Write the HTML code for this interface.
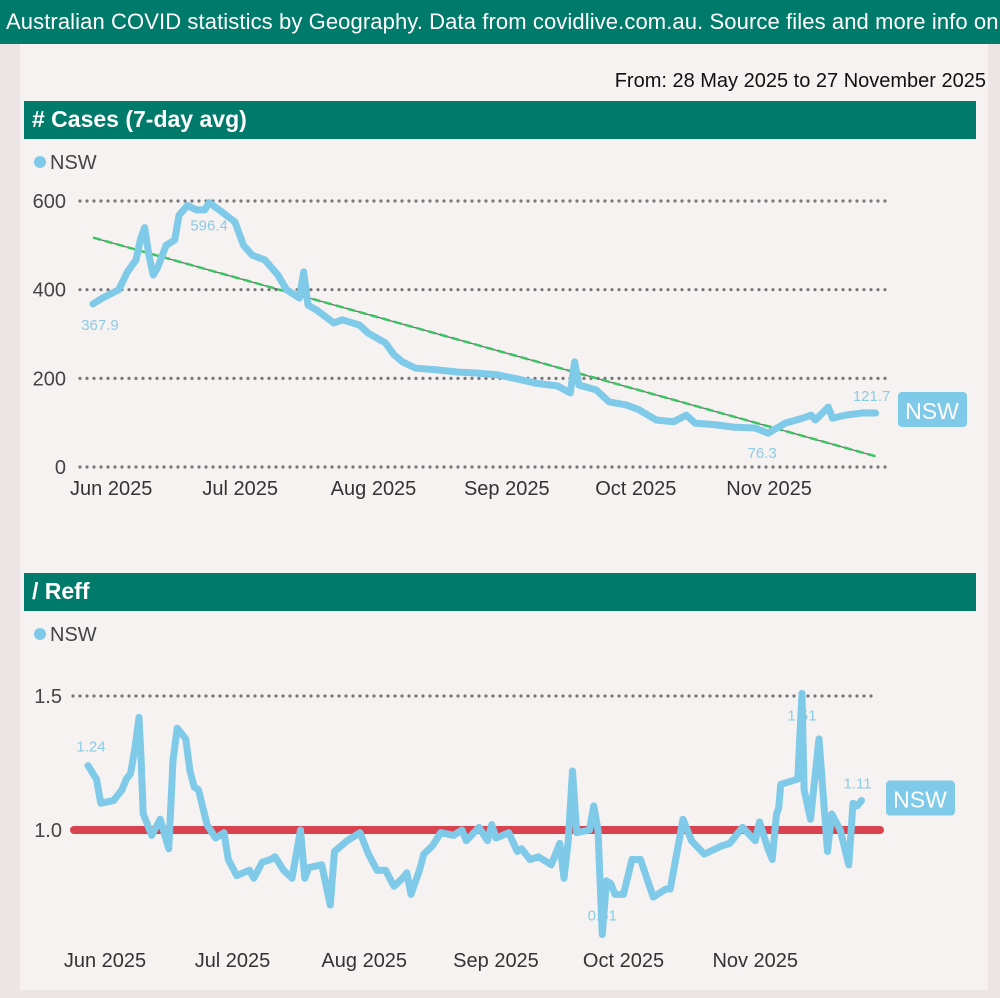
<!DOCTYPE html>
<html><head><meta charset="utf-8"><style>
body{margin:0;width:1000px;height:998px;background:#ede4e5;font-family:"Liberation Sans",sans-serif;overflow:hidden;position:relative}
.hdr{position:absolute;left:0;top:0;width:1000px;height:44px;background:#007a6a;color:#fff;font-size:22px;letter-spacing:0.1px;line-height:44px;white-space:nowrap;padding-left:6px;box-sizing:border-box;overflow:hidden}
.panel{position:absolute;left:20px;top:44px;width:968px;height:946px;background:#f5f2f1}
.from{position:absolute;right:14px;top:70px;font-size:20px;color:#111}
.sec{position:absolute;left:24px;width:952px;height:38px;background:#007a6a;color:#fff;font-size:23px;font-weight:bold;line-height:36px;padding-left:8px;box-sizing:border-box}
svg{position:absolute;left:0;top:0}
</style></head><body>
<div class="hdr">Australian COVID statistics by Geography. Data from covidlive.com.au. Source files and more info on</div>
<div class="panel"></div>
<div class="from">From: 28 May 2025 to 27 November 2025</div>
<div class="sec" style="top:101px"># Cases (7-day avg)</div>
<div class="sec" style="top:573px">/ Reff</div>
<svg id="s" width="1000" height="998"></svg>
<script>
const monthLabels=["Jun 2025","Jul 2025","Aug 2025","Sep 2025","Oct 2025","Nov 2025"];
const monthDays=[4,34,65,96,126,157];
const caseTicks=[0,200,400,600];
const caseDays=[0,2,6,8,10,11,12,13,14,15,17,19,20,22,24,26,27,30,33,35,37,40,43,45,48,49,50,52,56,58,62,64,68,70,72,75,80,85,89,94,98,103,108,111,112,113,117,120,124,127,131,135,138,140,145,149,154,157,161,165,167,168,171,172,175,179,182];
const caseVals=[367.9,380,400,440,467,512,540,478,433,449,500,512,568,590,580,580,596.4,575,553,500,478,467,433,400,381,440,365,354,325,332,320,302,280,253,237,223,219,214,212,208,200,189,183,167,237,185,174,147,140,129,106,102,117,99,95,90,88,76.3,99,110,117,106,135,110,117,122,121.7];
const reffTicks=[1.0,1.5];
const reffDays=[0,2,3,6,8,9,10,11,12,12.5,13,15,17,19,20,21,23,24,25,26,28,30,32,33,35,38,39,41,43,44,46,48,50,51,52,55,57,58,61,63,64,66,68,70,72,74,75,76,78,79,81,83,86,88,89,92,94,95,96,99,101,102,104,106,109,111,112,113,114,115,118,119,120,121,122,123,124,126,128,130,133,136,137,140,142,145,149,151,154,157,158,160,161,162,162.5,163,167,168,168.5,170,172,174,175,177,179,180,181,182];
const reffVals=[1.24,1.19,1.10,1.11,1.15,1.19,1.21,1.30,1.42,1.26,1.06,0.98,1.04,0.93,1.26,1.38,1.34,1.22,1.16,1.15,1.02,0.97,0.99,0.89,0.83,0.85,0.82,0.88,0.89,0.90,0.85,0.82,1.00,0.82,0.86,0.87,0.72,0.92,0.96,0.98,0.99,0.91,0.85,0.85,0.79,0.82,0.84,0.76,0.85,0.91,0.94,0.99,0.98,1.00,0.96,1.01,0.96,1.02,0.97,0.99,0.92,0.93,0.89,0.90,0.87,0.95,0.82,0.96,1.22,0.99,1.00,1.09,1.00,0.61,0.81,0.80,0.76,0.76,0.89,0.89,0.75,0.78,0.78,1.04,0.96,0.91,0.94,0.95,1.01,0.96,1.03,0.93,0.89,1.06,1.08,1.17,1.19,1.51,1.15,1.04,1.34,0.92,1.06,1.00,0.87,1.10,1.09,1.11];
const NS="http://www.w3.org/2000/svg",S=document.getElementById('s');
function mk(t,a,txt){const e=document.createElementNS(NS,t);for(const k in a)e.setAttribute(k,a[k]);if(txt!==undefined)e.textContent=txt;S.appendChild(e);return e;}
const cx=d=>93+d*4.3, cy=v=>467-v*0.4433;
const rx=d=>88+d*4.25, ry=v=>830-(v-1)*268;
caseTicks.forEach(t=>{let g=mk('line',{x1:80,x2:890,y1:cy(t),y2:cy(t),stroke:'#777','stroke-width':3.2,'stroke-dasharray':'0 7','stroke-linecap':'round'});
let l=mk('text',{x:66,y:cy(t)+7,'text-anchor':'end','font-size':20,fill:'#444'},String(t));});
monthLabels.forEach((m,i)=>{let l=mk('text',{x:cx(monthDays[i])+1,y:495,'text-anchor':'middle','font-size':20,fill:'#333'},m);});
{let n=caseDays.length,sx=0,sy=0,sxx=0,sxy=0;caseDays.forEach((d,i)=>{sx+=d;sy+=caseVals[i];sxx+=d*d;sxy+=d*caseVals[i];});
let b=(n*sxy-sx*sy)/(n*sxx-sx*sx),a=(sy-b*sx)/n,d1=caseDays[n-1];
let t=mk('line',{x1:cx(0),y1:cy(a),x2:cx(d1),y2:cy(a+b*d1),stroke:'#666','stroke-width':1.2});
let t2=mk('line',{x1:cx(0),y1:cy(a),x2:cx(d1),y2:cy(a+b*d1),stroke:'#3cc464','stroke-width':2.5,'stroke-dasharray':'8 4'});}
let p=mk('polyline',{points:caseDays.map((d,i)=>cx(d)+','+cy(caseVals[i])).join(' '),fill:'none',stroke:'#7fc9e9','stroke-width':7,'stroke-linejoin':'round','stroke-linecap':'round'});

function lab(x,y,t,n){let l=mk('text',{x:x,y:y,'text-anchor':'middle','font-size':15,fill:'#8ccbe6'},t);}
{let n=caseDays.length,mx=0,mn=0;caseVals.forEach((v,i)=>{if(v>caseVals[mx])mx=i;if(v<caseVals[mn])mn=i;});
lab(cx(0)+7,cy(caseVals[0])+26,caseVals[0].toFixed(1),'cases-first-label');
lab(cx(caseDays[mx]),cy(caseVals[mx])+28,caseVals[mx].toFixed(1),'cases-max-label');
lab(cx(caseDays[mn])-6,cy(caseVals[mn])+25,caseVals[mn].toFixed(1),'cases-min-label');
lab(cx(caseDays[n-1])-4,cy(caseVals[n-1])-12,caseVals[n-1].toFixed(1),'cases-last-label');
let r=mk('rect',{x:898,y:cy(caseVals[n-1])-21,width:69,height:35,rx:4,fill:'#7fc9e9'});
let tt=mk('text',{x:932,y:cy(caseVals[n-1])+6,'text-anchor':'middle','font-size':23,fill:'#fff'},'NSW');}
[[162,'cases-legend'],[634,'reff-legend']].forEach(([y,n])=>{let c=mk('circle',{cx:40,cy:y,r:6,fill:'#7fc9e9'});
let t=mk('text',{x:50,y:y+7,'font-size':20,fill:'#444'},'NSW');});
{let g=mk('line',{x1:73,x2:878,y1:ry(1.5),y2:ry(1.5),stroke:'#777','stroke-width':3.2,'stroke-dasharray':'0 7','stroke-linecap':'round'});}
reffTicks.forEach(t=>{let l=mk('text',{x:62,y:ry(t)+7,'text-anchor':'end','font-size':20,fill:'#444'},t.toFixed(1));});
monthLabels.forEach((m,i)=>{let l=mk('text',{x:rx(monthDays[i]),y:967,'text-anchor':'middle','font-size':20,fill:'#333'},m);});
{let r=mk('line',{x1:74,x2:880,y1:ry(1),y2:ry(1),stroke:'#d9434f','stroke-width':8,'stroke-linecap':'round'});}
let q=mk('polyline',{points:reffDays.map((d,i)=>rx(d)+','+ry(reffVals[i])).join(' '),fill:'none',stroke:'#7fc9e9','stroke-width':7,'stroke-linejoin':'round','stroke-linecap':'round'});

{let n=reffDays.length,mx=0,mn=0;reffVals.forEach((v,i)=>{if(v>reffVals[mx])mx=i;if(v<reffVals[mn])mn=i;});
lab(rx(0)+3,ry(reffVals[0])-14,reffVals[0].toFixed(2),'reff-first-label');
lab(rx(reffDays[mx]),ry(reffVals[mx])+27,reffVals[mx].toFixed(2),'reff-max-label');
lab(rx(reffDays[mn]),ry(reffVals[mn])-14,reffVals[mn].toFixed(2),'reff-min-label');
lab(rx(reffDays[n-1])-4,ry(reffVals[n-1])-12,reffVals[n-1].toFixed(2),'reff-last-label');
let r=mk('rect',{x:886,y:ry(reffVals[n-1])-20,width:69,height:35,rx:4,fill:'#7fc9e9'});
let tt=mk('text',{x:920,y:ry(reffVals[n-1])+7,'text-anchor':'middle','font-size':23,fill:'#fff'},'NSW');}
</script>
</body></html>
